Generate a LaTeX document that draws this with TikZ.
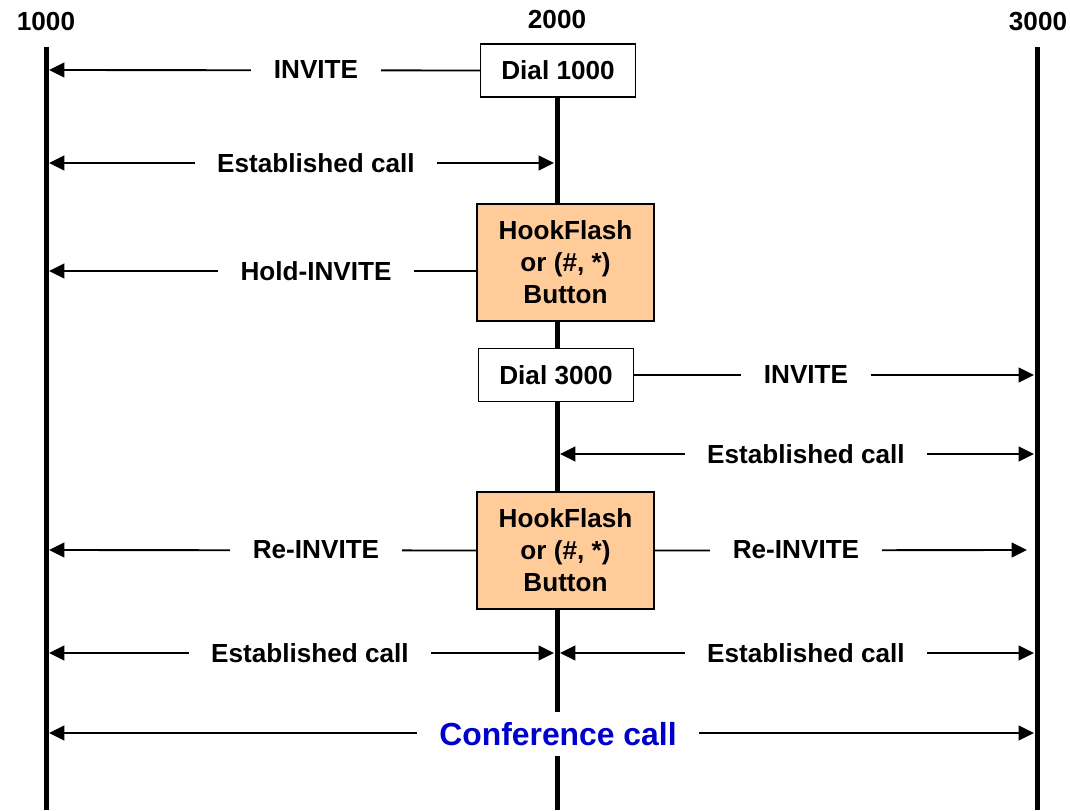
\documentclass[tikz,border=0pt]{standalone}
\usepackage{fontspec}
\setmainfont{Liberation Sans}
\usetikzlibrary{arrows.meta}
\definecolor{hookorange}{RGB}{255,204,153}
\definecolor{confblue}{RGB}{0,0,204}
\newcommand{\lblfont}{\fontsize{19.6}{24}\selectfont\bfseries}
\newcommand{\conffont}{\fontsize{23.9}{28}\selectfont\bfseries}
\tikzset{
  lifeline/.style={line width=3.75pt},
  msg/.style={line width=1.4pt, -{Triangle[length=11.5pt,width=11pt]}},
  bmsg/.style={line width=1.4pt, {Triangle[length=11.5pt,width=11pt]}-{Triangle[length=11.5pt,width=11pt]}},
  lbl/.style={fill=white, inner xsep=17pt, inner ysep=2pt, font=\lblfont},
  head/.style={font=\lblfont, inner sep=0pt},
  dialbox/.style={draw, line width=1.2pt, fill=white, font=\lblfont, align=center, minimum width=116pt, minimum height=40pt, inner sep=0pt},
  hookbox/.style={draw, line width=1.2pt, fill=hookorange, font=\lblfont, align=center, minimum width=133pt, minimum height=88pt, inner sep=0pt},
}
\begin{document}
\begin{tikzpicture}[x=0.75pt,y=-0.75pt]
\useasboundingbox (0,0) rectangle (1070,810);
% headers
\node[head] (h1) at (46,22) {1000};
\node[head] (h2) at (557,20) {2000};
\node[head] (h3) at (1038,22) {3000};
% lifeline coordinates
\coordinate (l1t) at (46,47);
\coordinate (l1b) at (46,810);
\coordinate (l2t) at (557,70);
\coordinate (l2b) at (557,810);
\coordinate (l3t) at (1037,47);
\coordinate (l3b) at (1037,810);
\draw[lifeline] (l1t) -- (l1b);
\draw[lifeline] (l2t) -- (l2b);
\draw[lifeline] (l3t) -- (l3b);
% boxes
\node[dialbox] (d1) at (558,70.5) {Dial 1000};
\node[hookbox] (hf1) at (565.5,262.5) {HookFlash\\or (\#, *)\\Button};
\node[dialbox] (d3) at (556,375) {Dial 3000};
\node[hookbox] (hf2) at (565.5,550.5) {HookFlash\\or (\#, *)\\Button};
% end coordinates
\coordinate (a1) at (49,70);
\coordinate (b1L) at (49,163);  \coordinate (b1R) at (554,163);
\coordinate (a3) at (49,271);
\coordinate (a4) at (1034,375);
\coordinate (b5L) at (560,454); \coordinate (b5R) at (1034,454);
\coordinate (a6L) at (49,550);
\coordinate (a6R) at (1027,550);
\coordinate (b7L) at (49,653);  \coordinate (b7R) at (554,653);
\coordinate (b8L) at (560,653); \coordinate (b8R) at (1034,653);
\coordinate (b9L) at (49,733);  \coordinate (b9R) at (1034,733);
% messages
\draw[msg] (d1.west) -- (a1);
\draw[bmsg] (b1L) -- (b1R);
\draw[msg] (hf1.west |- a3) -- (a3);
\draw[msg] (d3.east) -- (a4);
\draw[bmsg] (b5L) -- (b5R);
\draw[msg] (hf2.west) -- (a6L);
\draw[msg] (hf2.east) -- (a6R);
\draw[bmsg] (b7L) -- (b7R);
\draw[bmsg] (b8L) -- (b8R);
\draw[bmsg] (b9L) -- (b9R);
% labels
\node[lbl] (t1) at (316,70) {INVITE};
\node[lbl] (t2) at (316,163) {Established call};
\node[lbl] (t3) at (316,271) {Hold-INVITE};
\node[lbl] (t4) at (806,375) {INVITE};
\node[lbl] (t5) at (806,454) {Established call};
\node[lbl] (t6) at (316,550) {Re-INVITE};
\node[lbl] (t7) at (796,550) {Re-INVITE};
\node[lbl] (t8) at (310,653) {Established call};
\node[lbl] (t9) at (806,653) {Established call};
\node[lbl, font=\conffont, text=confblue, inner ysep=8pt] (t10) at (558,734) {Conference call};
\end{tikzpicture}
\end{document}
